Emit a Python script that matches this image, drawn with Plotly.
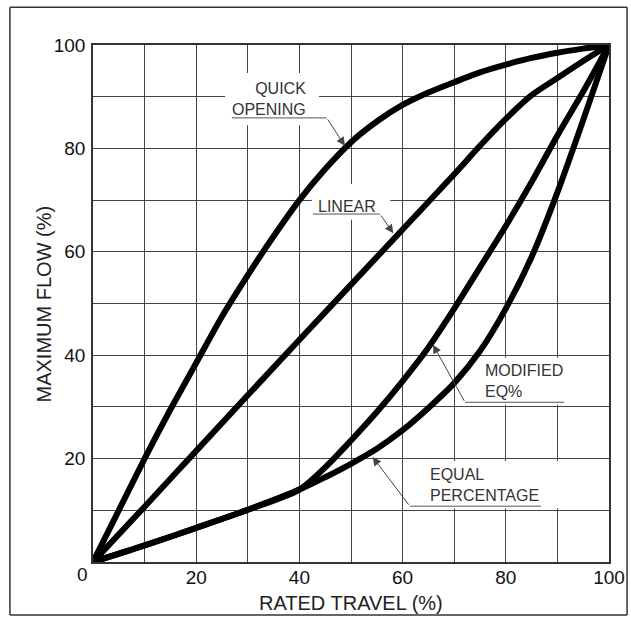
import plotly.graph_objects as go

# ---- data ----
quick_x = [0, 5, 10, 15, 20, 25, 30, 35, 40, 45, 50, 55, 60, 65, 70, 75, 80, 85, 90, 95, 100]
quick_y = [0, 10, 20, 29.5, 38.5, 47.5, 55.5, 63, 70, 76, 81.2, 85.2, 88.4, 90.8, 92.8, 94.7, 96.2, 97.5, 98.5, 99.3, 100]

linear_x = [0, 10, 20, 40, 60, 70, 75, 80, 85, 90, 95, 100]
linear_y = [0, 10.7, 21.5, 43, 64.3, 75, 80.5, 85.7, 90.3, 93.6, 96.9, 100]

modified_x = [0, 10, 20, 30, 40, 45, 50, 55, 60, 65, 70, 75, 80, 85, 90, 95, 100]
modified_y = [0, 3.2, 6.6, 10.1, 14, 18.3, 23.5, 29, 35, 41.5, 49, 57, 65, 73.5, 82.5, 91, 100]

equal_x = [0, 10, 20, 30, 40, 45, 50, 55, 60, 65, 70, 75, 80, 85, 90, 95, 100]
equal_y = [0, 3.2, 6.6, 10.1, 14, 16.4, 19, 21.9, 25.5, 29.8, 34.6, 40.8, 49, 59, 71.5, 85.5, 100]

tick_vals = [0, 10, 20, 30, 40, 50, 60, 70, 80, 90, 100]
tick_text = ["", "", "20", "", "40", "", "60", "", "80", "", "100"]

x_title = "RATED TRAVEL (%)"
y_title = "MAXIMUM FLOW (%)"

# labels: text, text anchor (x, y, xanchor), underline (x0, x1, y), arrow tip (x, y), white box (x0, x1, y0, y1)
labels = [
    dict(text="QUICK<br>OPENING", x=41.7, y=89.65, xanchor="right", align="right",
         ul=(26.9, 45.3, 85.9), tip=(48.8, 80.5), box=(25.6, 43.8, 84.5, 94.6)),
    dict(text="LINEAR", x=55.2, y=68.8, xanchor="right", align="right",
         ul=(42.6, 55.6, 67.3), tip=(58.2, 63.6), box=(42.4, 57.6, 66.2, 73.1)),
    dict(text="MODIFIED<br>EQ%", x=75.6, y=35.0, xanchor="left", align="left",
         ul=(72.1, 91.3, 30.9), tip=(65.9, 42.0), box=(74.6, 92.8, 30.4, 39.5)),
    dict(text="EQUAL<br>PERCENTAGE", x=64.9, y=14.8, xanchor="left", align="left",
         ul=(61.4, 86.8, 10.8), tip=(54.2, 20.3), box=(61.4, 92.1, 10.4, 19.5)),
]

FONT = "Arial, 'Liberation Sans', Helvetica, sans-serif"

fig = go.Figure()
for xs, ys in [(equal_x, equal_y), (modified_x, modified_y), (linear_x, linear_y), (quick_x, quick_y)]:
    fig.add_trace(go.Scatter(x=xs, y=ys, mode="lines",
                             line=dict(color="black", width=6, shape="spline", smoothing=0.8),
                             hoverinfo="skip", showlegend=False))

shapes = []
annotations = []
for lb in labels:
    bx0, bx1, by0, by1 = lb["box"]
    shapes.append(dict(type="rect", xref="x", yref="y", x0=bx0, x1=bx1, y0=by0, y1=by1,
                       fillcolor="white", line=dict(width=0), layer="between"))
    ux0, ux1, uy = lb["ul"]
    shapes.append(dict(type="line", xref="x", yref="y", x0=ux0, x1=ux1, y0=uy, y1=uy,
                       line=dict(color="#555", width=1), layer="above"))
    annotations.append(dict(text=lb["text"], x=lb["x"], y=lb["y"], xref="x", yref="y",
                            xanchor=lb["xanchor"], yanchor="middle", align=lb["align"],
                            showarrow=False, font=dict(family=FONT, size=16, color="#333")))
    tx, ty = lb["tip"]
    arrow_from_x = ux1 if lb["xanchor"] == "right" else ux0
    annotations.append(dict(text="", x=tx, y=ty, xref="x", yref="y",
                            ax=arrow_from_x, ay=uy, axref="x", ayref="y",
                            showarrow=True, arrowhead=2, arrowsize=1.7, arrowwidth=1,
                            arrowcolor="#444", standoff=0, startstandoff=0))

# combined origin label
annotations.append(dict(text="0", x=-0.0213, y=-0.025, xref="paper", yref="paper", showarrow=False,
                        xanchor="center", yanchor="middle",
                        font=dict(family=FONT, size=19, color="#111")))
# axis titles
annotations.append(dict(text=x_title, x=0.5, y=-0.0793, xref="paper", yref="paper", showarrow=False,
                        xanchor="center", yanchor="middle",
                        font=dict(family=FONT, size=20, color="#222")))
annotations.append(dict(text=y_title, x=-0.095, y=0.5, xref="paper", yref="paper", showarrow=False,
                        xanchor="center", yanchor="middle", textangle=-90,
                        font=dict(family=FONT, size=20, color="#222")))

# outer frame (four edges)
fx0, fx1, fy0, fy1 = -0.161, 1.035, -0.1025, 1.073
for (a0, b0, a1, b1) in [(fx0, fy0, fx1, fy0), (fx0, fy1, fx1, fy1), (fx0, fy0, fx0, fy1), (fx1, fy0, fx1, fy1)]:
    shapes.append(dict(type="line", xref="paper", yref="paper", x0=a0, y0=b0, x1=a1, y1=b1,
                       line=dict(color="#333", width=1.5), layer="above"))

axis_common = dict(range=[0, 100], tickmode="array", tickvals=tick_vals, ticktext=tick_text,
                   showgrid=True, gridcolor="#444", gridwidth=1, zeroline=False,
                   showline=True, linecolor="#333", linewidth=1.5, mirror=True, ticks="",
                   tickfont=dict(family=FONT, size=19, color="#111"), fixedrange=True)

fig.update_layout(
    width=631, height=617,
    margin=dict(l=93, r=22, t=45, b=55, pad=0, autoexpand=False),
    paper_bgcolor="white", plot_bgcolor="white",
    xaxis=dict(**axis_common, ticklabelstandoff=-3, automargin=False),
    yaxis=dict(**axis_common, ticklabelstandoff=2, automargin=False),
    shapes=shapes, annotations=annotations, showlegend=False,
)

fig.write_html("out.html", config={"displayModeBar": False},
               post_script="document.body.style.margin='0';document.body.style.overflow='hidden';")
